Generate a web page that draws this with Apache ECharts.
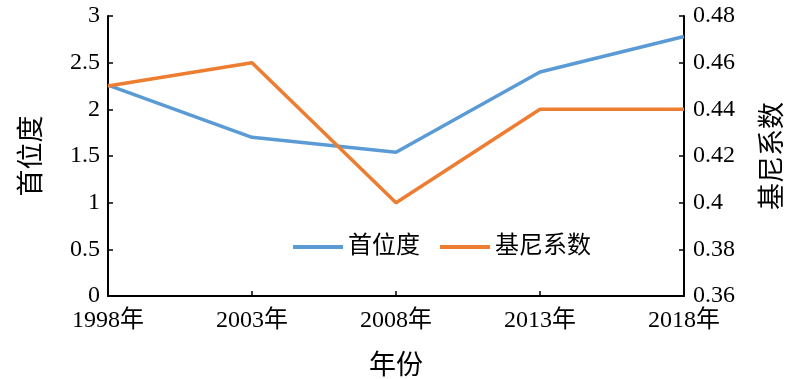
<!DOCTYPE html>
<html><head><meta charset="utf-8">
<script src="https://cdn.jsdelivr.net/npm/echarts@6/dist/echarts.min.js"></script>
<style>html,body{margin:0;padding:0;background:#fff}#c{width:800px;height:379px}</style>
</head><body><div id="c"></div>
<script>
const categories = ['1998年','2003年','2008年','2013年','2018年'];
const primacy = [2.26, 1.70, 1.54, 2.40, 2.78];
const gini = [0.45, 0.46, 0.40, 0.44, 0.44];
const seriesNames = ['首位度','基尼系数'];
const FONT = '"Liberation Serif","Noto Sans CJK SC",serif';
const chart = echarts.init(document.getElementById('c'), null, {renderer:'canvas'});
const axisCommon = {
  axisLine:{show:true,lineStyle:{color:'#000',width:2}},
  axisTick:{show:true,inside:true,length:5,lineStyle:{color:'#000',width:1.5}},
  splitLine:{show:false},
  axisLabel:{color:'#000',fontSize:24,fontFamily:FONT},
  nameTextStyle:{color:'#000',fontSize:27,fontFamily:FONT}
};
chart.setOption({
  animation:false,
  backgroundColor:'#fff',
  grid:{left:108,right:116,top:16,bottom:83,containLabel:false,outerBoundsMode:'none'},
  legend:{
    data:seriesNames,left:288,top:230,itemWidth:50,itemHeight:4,itemGap:20,icon:'rect',
    textStyle:{color:'#000',fontSize:24,fontFamily:FONT}
  },
  xAxis:Object.assign({},axisCommon,{
    type:'category',data:categories,boundaryGap:false,
    name:'年份',nameLocation:'middle',nameGap:57,
    axisLabel:Object.assign({},axisCommon.axisLabel,{margin:13})
  }),
  yAxis:[
    Object.assign({},axisCommon,{
      type:'value',min:0,max:3,interval:0.5,position:'left',
      name:'首位度',nameLocation:'middle',nameGap:62,
      axisLabel:Object.assign({},axisCommon.axisLabel,{margin:8})
    }),
    Object.assign({},axisCommon,{
      type:'value',min:0.36,max:0.48,interval:0.02,position:'right',
      name:'基尼系数',nameLocation:'middle',nameGap:76,nameRotate:90,
      axisLabel:Object.assign({},axisCommon.axisLabel,{margin:9,formatter:v=>String(+v.toFixed(2))})
    })
  ],
  series:[
    {name:seriesNames[0],type:'line',data:primacy,yAxisIndex:0,symbol:'none',
     lineStyle:{color:'#5B9BD5',width:3.5},itemStyle:{color:'#5B9BD5'}},
    {name:seriesNames[1],type:'line',data:gini,yAxisIndex:1,symbol:'none',
     lineStyle:{color:'#ED7D31',width:3.5},itemStyle:{color:'#ED7D31'}}
  ]
});
</script></body></html>
